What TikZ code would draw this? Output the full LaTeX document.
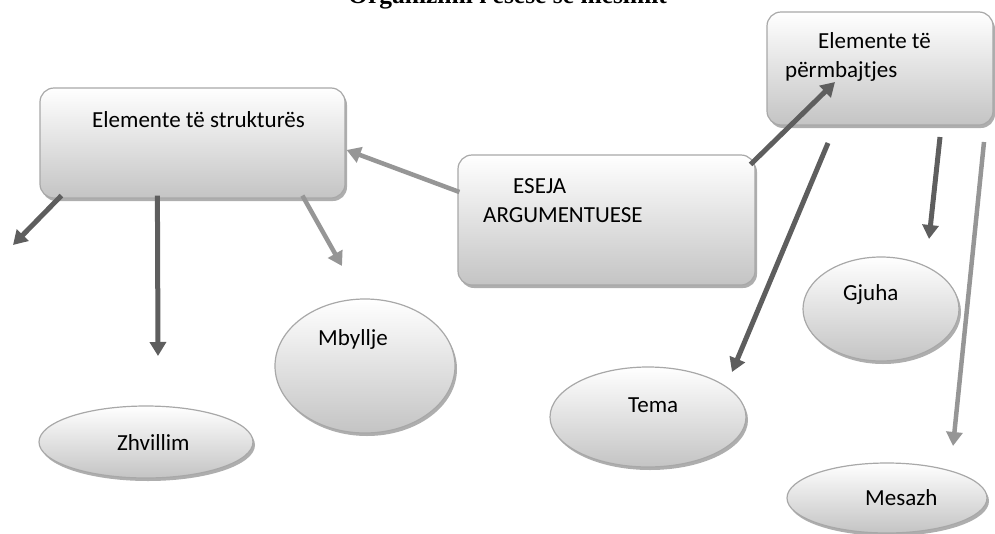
\documentclass[tikz,border=0pt]{standalone}
\usepackage{fontspec}
\setmainfont{Carlito}
\newfontfamily\titlefont{Liberation Serif}
\usetikzlibrary{shapes.geometric,shadows,arrows.meta}
\definecolor{darkarr}{HTML}{5E5E5E}
\definecolor{lightarr}{HTML}{969696}
\definecolor{edgecol}{HTML}{A8A8A8}
\definecolor{shadecol}{HTML}{C4C4C4}
\tikzset{
 shp/.style={draw=edgecol, line width=1.2pt, top color=white, bottom color=shadecol,
   drop shadow={shadow xshift=2pt,shadow yshift=-3pt,fill=black!45,opacity=0.7}, inner sep=0pt},
 boxs/.style={shp, rectangle, rounded corners=14pt},
 ell/.style={shp, ellipse},
 lbl/.style={font=\fontsize{23}{28}\selectfont, anchor=base west, inner sep=0pt},
 darrow/.style={draw=darkarr, line width=5pt, -{Triangle[width=16pt,length=14pt]}},
 larrow/.style={draw=lightarr, line width=4.5pt, -{Triangle[width=16pt,length=14pt]}},
}
\begin{document}
\begin{tikzpicture}[x=1pt,y=-1pt]
\useasboundingbox (0,0) rectangle (995,533);
% title
\node[anchor=base west, inner sep=0pt, font=\titlefont\bfseries\fontsize{25.5}{30}\selectfont] (title) at (348,3.5) {Organizimi i esesë së mesimit};
% boxes
\node[boxs, minimum width=305pt, minimum height=110pt] (s) at (192.5,143) {};
\node[boxs, minimum width=297pt, minimum height=130pt] (e) at (606.5,220) {};
\node[boxs, minimum width=226pt, minimum height=113pt] (p) at (880,68.5) {};
% ellipses
\node[ell, minimum width=214pt, minimum height=72pt] (zh) at (146,442) {};
\node[ell, minimum width=180pt, minimum height=134pt] (mb) at (365,366) {};
\node[ell, minimum width=196pt, minimum height=100pt] (tm) at (648,417) {};
\node[ell, minimum width=156pt, minimum height=104pt] (gj) at (881,309) {};
\node[ell, minimum width=200pt, minimum height=70pt] (ms) at (887,498) {};
% labels
\node[lbl] (ts) at (92,127) {Elemente të strukturës};
\node[lbl] (te1) at (513,193) {ESEJA};
\node[lbl] (te2) at (483,222) {ARGUMENTUESE};
\node[lbl] (tp1) at (818,48) {Elemente të};
\node[lbl] (tp2) at (785,77) {përmbajtjes};
\node[lbl] (tmb) at (318,345) {Mbyllje};
\node[lbl] (tzh) at (117,450) {Zhvillim};
\node[lbl] (ttm) at (628,412) {Tema};
\node[lbl] (tgj) at (843,300) {Gjuha};
\node[lbl] (tms) at (865,505) {Mesazh};
% free ends
\coordinate (c1) at (13,245);
\coordinate (c2) at (158,356);
\coordinate (c3) at (342,266);
\coordinate (c5) at (835,82);
\coordinate (c6s) at (828,143);
\coordinate (c6) at (732,372);
\coordinate (c7s) at (940,137);
\coordinate (c7) at (929,239);
\coordinate (c8s) at (984,142);
\coordinate (c8) at (953,446);
% connectors
\draw[darrow] ([xshift=22pt,yshift=3pt]s.south west) -- (c1);
\draw[darrow] ([xshift=118pt,yshift=3pt]s.south west) -- (c2);
\draw[larrow] ([xshift=263pt,yshift=3pt]s.south west) -- (c3);
\draw[larrow] ([xshift=2pt,yshift=28pt]e.west) -- ([xshift=1pt,yshift=-7pt]s.east);
\draw[darrow] ([xshift=-5pt,yshift=-10pt]e.north east) -- (c5);
\draw[darrow] (c6s) -- (c6);
\draw[darrow] (c7s) -- (c7);
\draw[larrow] (c8s) -- (c8);
\end{tikzpicture}
\end{document}
